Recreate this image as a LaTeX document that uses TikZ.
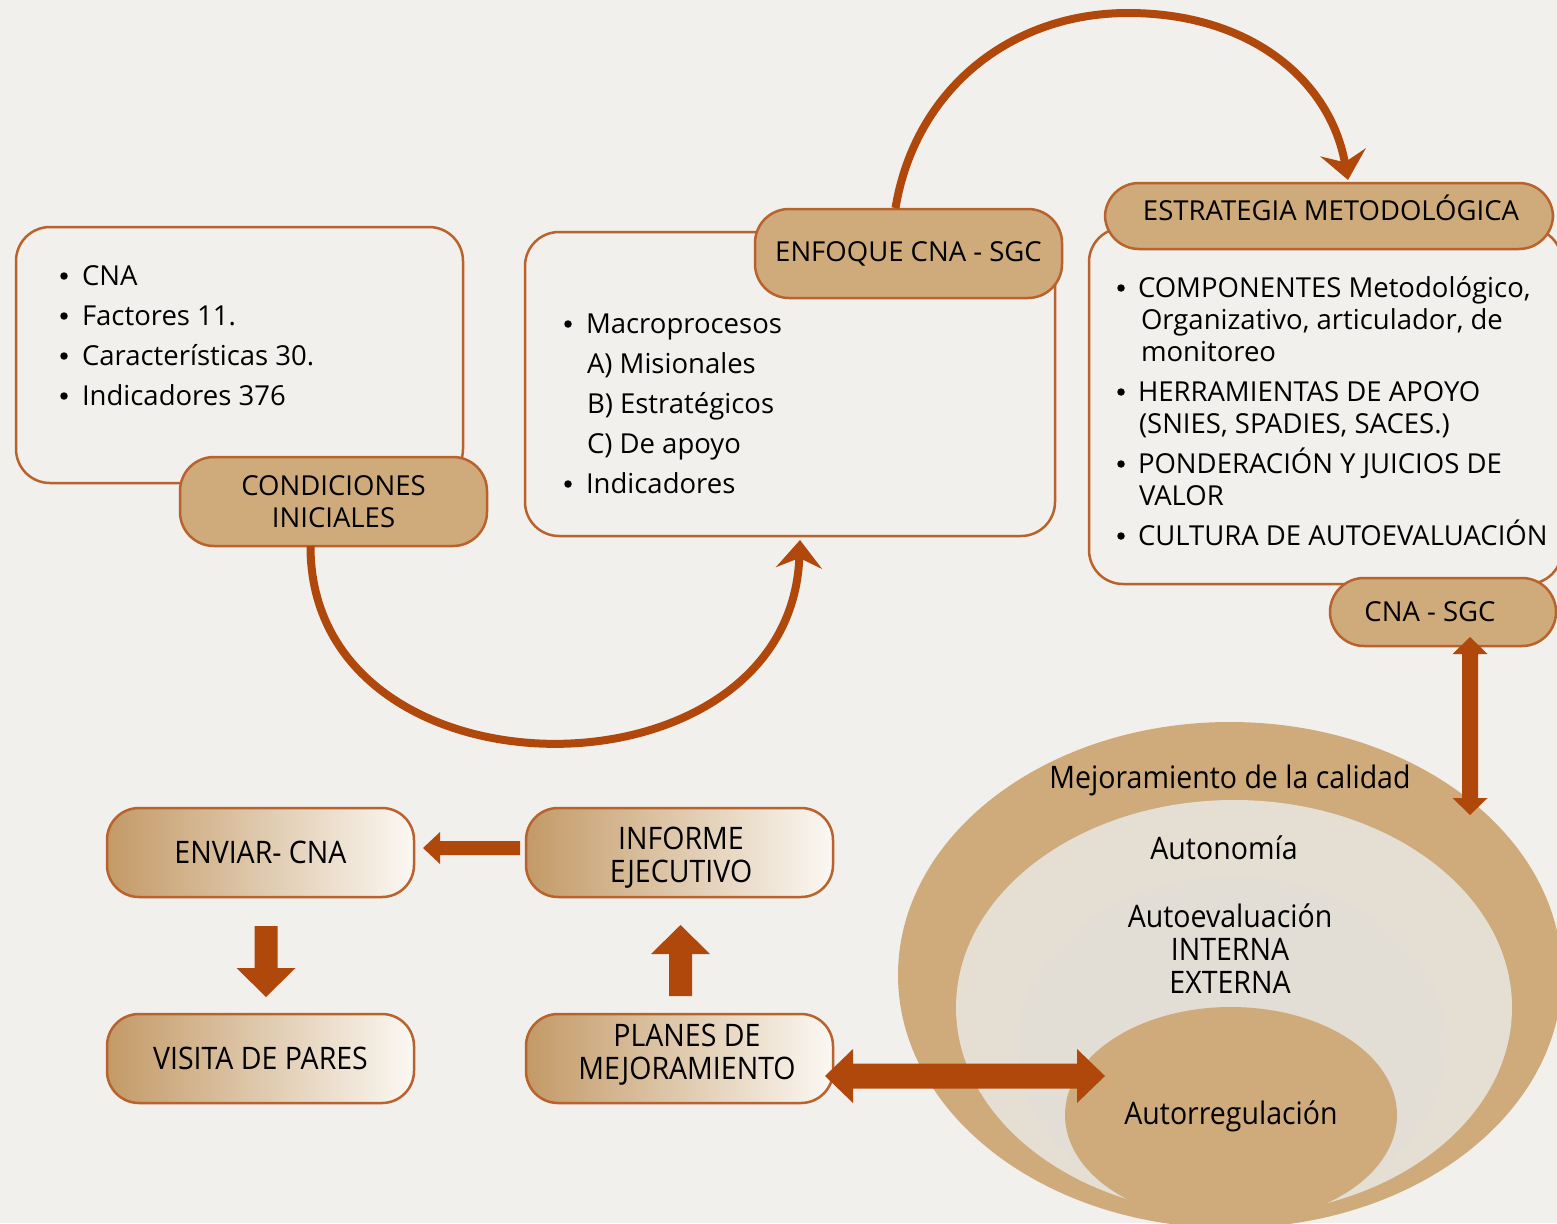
\documentclass[tikz,border=0pt]{standalone}
\usepackage{fontspec}
\setmainfont{Open Sans}
\newfontfamily\condfont[FakeStretch=0.92]{Open Sans}
\usetikzlibrary{arrows.meta,calc,shapes.geometric}
\definecolor{bgc}{HTML}{F2F0EC}
\definecolor{brd}{HTML}{B9622B}
\definecolor{tanc}{HTML}{CFAA7A}
\definecolor{rust}{HTML}{B0480B}
\definecolor{pale}{HTML}{E5DED3}
\definecolor{paleb}{HTML}{E2DDD5}
\definecolor{gl}{HTML}{C39A67}
\definecolor{gr}{HTML}{FBF8F3}
\tikzset{
  every node/.style={inner sep=0pt, outer sep=0pt},
  txt/.style={font=\fontsize{27.5}{32}\selectfont, text=black},
  ctxt/.style={font=\condfont\fontsize{31}{33}\selectfont, text=black, align=center},
  itm/.style={txt, anchor=base west},
  bul/.style={circle, fill=black, minimum size=7.5pt},
  frame/.style={draw=brd, line width=2.5pt, rounded corners=34pt, fill=bgc},
  tabbox/.style={draw=brd, line width=2.5pt, rounded corners=34pt, fill=tanc, txt, align=center},
  gradbox/.style={draw=brd, line width=2.5pt, rounded corners=32pt, left color=gl, right color=gr, ctxt,
     minimum width=307pt, minimum height=89pt},
  curvearrow/.style={draw=rust, line width=8pt, -{Stealth[length=28pt,width=46pt,inset=10pt]}},
  blockarrow/.style={fill=rust},
}
\begin{document}
\begin{tikzpicture}[x=1pt,y=-1pt]
\fill[bgc] (0,0) rectangle (1557,1223);
\useasboundingbox (0,0) rectangle (1557,1223);

% ---- box 1
\node[frame, minimum width=447pt, minimum height=256pt] (b1) at (239.5,355) {};
\node[bul] (b1a0) at (64,276) {}; \node[itm] (b1a) at (82,285.5) {CNA};
\node[bul] (b1b0) at (64,316) {}; \node[itm] (b1b) at (82,325.5) {Factores 11.};
\node[bul] (b1c0) at (64,356) {}; \node[itm] (b1c) at (82,365.5) {Características 30.};
\node[bul] (b1d0) at (64,396) {}; \node[itm] (b1d) at (82,405.5) {Indicadores 376};
\node[tabbox, minimum width=307pt, minimum height=89pt] (cond) at (333.5,501.5) {CONDICIONES\\INICIALES};

% ---- box 2
\node[frame, minimum width=530pt, minimum height=304pt] (b2) at (790,384) {};
\node[bul] (b2a0) at (568,324) {}; \node[itm] (b2a) at (586,333.5) {Macroprocesos};
\node[itm] (b2b) at (587,373.5) {A) Misionales};
\node[itm] (b2c) at (587,413.5) {B) Estratégicos};
\node[itm] (b2d) at (587,453.5) {C) De apoyo};
\node[bul] (b2e0) at (568,484) {}; \node[itm] (b2e) at (586,493.5) {Indicadores};
\node[tabbox, minimum width=307pt, minimum height=89pt] (enf) at (908.5,253.5) {ENFOQUE CNA - SGC};

% ---- box 3
\node[frame, minimum width=473pt, minimum height=356pt] (b3) at (1325.5,406) {};
\node[bul] (b3a0) at (1121,288) {}; \node[itm] (b3a) at (1138,297.5) {COMPONENTES Metodológico,};
\node[itm] (b3a1) at (1141,329.5) {Organizativo, articulador, de};
\node[itm] (b3a2) at (1141,361.5) {monitoreo};
\node[bul] (b3b0) at (1121,392) {}; \node[itm] (b3b) at (1138,401.5) {HERRAMIENTAS DE APOYO};
\node[itm] (b3b1) at (1139,433.5) {(SNIES, SPADIES, SACES.)};
\node[bul] (b3c0) at (1121,464) {}; \node[itm] (b3c) at (1138,473.5) {PONDERACIÓN Y JUICIOS DE};
\node[itm] (b3c1) at (1139,505.5) {VALOR};
\node[bul] (b3d0) at (1121,536) {}; \node[itm] (b3d) at (1138,545.5) {CULTURA DE AUTOEVALUACIÓN};
\node[tabbox, minimum width=448pt, minimum height=66pt] (estr) at (1329,216) {};
\node[txt] (estrt) at (1331,208) {ESTRATEGIA METODOLÓGICA};
\node[tabbox, minimum width=226pt, minimum height=68pt] (cnasgc) at (1443,612) {};
\node[txt] (cnasgct) at (1430,612) {CNA - SGC};

% ---- curved arrows
\draw[curvearrow] ($(cond.south)+(-23,0)$) .. controls (310,808) and (790,808) .. ($(b2.south)+(10,4)$) coordinate (t1);
\draw[curvearrow] ($(enf.north)+(-13,-1)$) .. controls (915,90) and (1010,13) .. (1128,13) coordinate (peak)
   .. controls (1250,13) and (1330,80) .. ($(estr.north)+(19,-3)$);

% ---- ellipses
\node[ellipse, fill=tanc, minimum width=664pt, minimum height=506pt] (outer) at (1230,975) {};
\node[ellipse, fill=pale, minimum width=556pt, minimum height=415pt] (mid) at (1234,1007.5) {};
\node[ellipse, fill=paleb, minimum width=428pt, minimum height=338pt] (inner) at (1232,1046) {};
\node[ellipse, fill=tanc, minimum width=332pt, minimum height=216pt] (autor) at (1231,1115) {};
\node[ctxt] (tmej) at (1230,780) {Mejoramiento de la calidad};
\node[ctxt] (taut) at (1224,848) {Autonomía};
\node[ctxt] (tae) at (1230,949) {Autoevaluación\\INTERNA\\EXTERNA};
\node[ctxt] (tar) at (1231,1116) {Autorregulación};

% ---- bottom boxes
\node[gradbox] (env) at (260.5,852.5) {ENVIAR- CNA};
\node[gradbox] (vis) at (260.5,1058.5) {VISITA DE PARES};
\node[gradbox] (inf) at (679.5,852.5) {};
\node[ctxt] (inft) at (681,858) {INFORME\\EJECUTIVO};
\node[gradbox] (plan) at (679.5,1058.5) {};
\node[ctxt] (plant) at (687,1055) {PLANES DE\\MEJORAMIENTO};

% ---- block arrows
% informe -> enviar
\fill[blockarrow] ($(inf.west)+(-6,-4.5)$) -- ++(0,7) -- ++(-80,0) -- ++(0,9) -- ++(-17,-16) -- ++(17,-16) -- ++(0,9) -- ++(80,0) -- cycle;
% enviar -> visita
\fill[blockarrow] ($(env.south)+(5.5,29)$) -- ++(11.5,0) -- ++(0,42) -- ++(18,0) -- ++(-29.5,29) -- ++(-29.5,-29) -- ++(18,0) -- ++(0,-42) -- cycle;
% planes -> informe
\fill[blockarrow] ($(plan.north)+(1,-18)$) -- ++(11.5,0) -- ++(0,-42) -- ++(18,0) -- ++(-29.5,-29) -- ++(-29.5,29) -- ++(18,0) -- ++(0,42) -- cycle;
% planes <-> autorregulacion
\fill[blockarrow] ($(plan.east)+(-8,17.5)$) -- ++(28,-27) -- ++(0,14.5) -- ++(224,0) -- ++(0,-14.5) -- ++(28,27) -- ++(-28,27) -- ++(0,-14.5) -- ++(-224,0) -- ++(0,14.5) -- cycle;
% cna-sgc <-> mejoramiento
\fill[blockarrow] ($(cnasgc.south)+(27,-9)$) -- ++(17.5,17) -- ++(-9.5,0) -- ++(0,144) -- ++(9.5,0) -- ++(-17.5,17) -- ++(-17.5,-17) -- ++(9.5,0) -- ++(0,-144) -- ++(-9.5,0) -- cycle;
\end{tikzpicture}
\end{document}
